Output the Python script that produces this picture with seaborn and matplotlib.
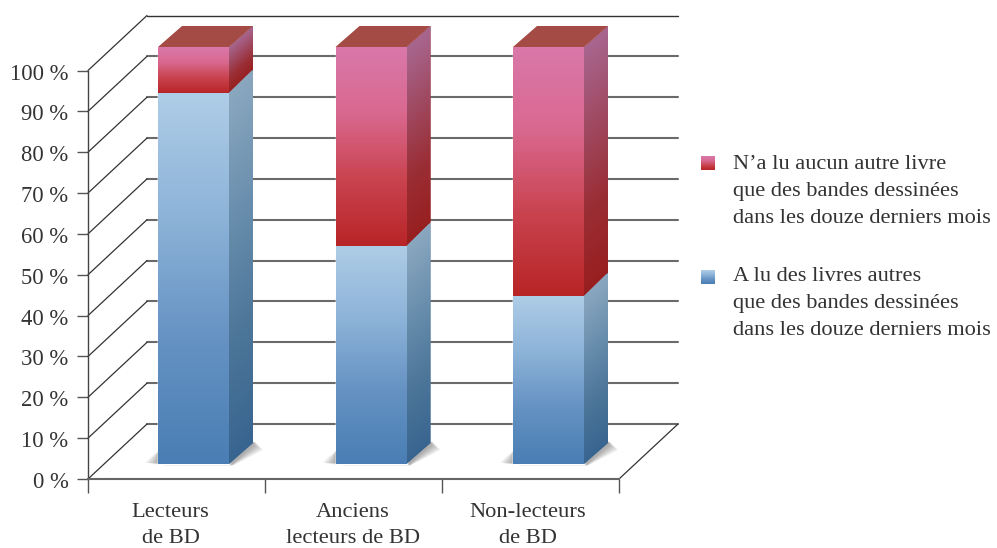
import numpy as np
import pandas as pd
import matplotlib
matplotlib.use('Agg')
import matplotlib.pyplot as plt
import seaborn as sns
from matplotlib.colors import LinearSegmentedColormap
from matplotlib.patches import Polygon
from matplotlib.transforms import ScaledTranslation

# Data
categories = ['Lecteurs\nde BD', 'Anciens\nlecteurs de BD', 'Non-lecteurs\nde BD']
a_lu = [89, 52.3, 40.3]
aucun = [11, 47.7, 59.7]
y_ticks = [0, 10, 20, 30, 40, 50, 60, 70, 80, 90, 100]
legend_aucun = "N’a lu aucun autre livre\nque des bandes dessinées\ndans les douze derniers mois"
legend_a_lu = "A lu des livres autres\nque des bandes dessinées\ndans les douze derniers mois"

W, H = 997, 548
sns.set_theme(style='white')
plt.rcParams['font.family'] = ['Liberation Serif', 'DejaVu Serif']
TXT = '#333333'

blue_front = LinearSegmentedColormap.from_list('bf', ['#aecde7', '#8db3d8', '#6592c3', '#4a7eb4'])
blue_side = LinearSegmentedColormap.from_list('bs', ['#8aa7bf', '#6a8fae', '#4d7699', '#386590'])
red_front = LinearSegmentedColormap.from_list('rf', ['#da78aa', '#d9688f', '#c9434f', '#b82527'])
red_side = LinearSegmentedColormap.from_list('rs', ['#a8668f', '#a04a62', '#9a2e35', '#981f1f'])


def rect(x0, ytop, x1, ybot):
    return [x0 / W, 1 - ybot / H, (x1 - x0) / W, (ybot - ytop) / H]


fig = plt.figure(figsize=(W / 100, H / 100), dpi=100)

# Frame axes: the front plane of the 3D box
ax = fig.add_axes(rect(88, 70.5, 619, 479))
ax.set_xlim(-0.5, 2.5)
ax.set_ylim(0, 100)
ax.patch.set_visible(False)
depth_x = 59 / 177
depth_y = 55 / 4.085
for s in ['top', 'right']:
    ax.spines[s].set_visible(False)
ax.spines['left'].set_color('#444444')
ax.spines['left'].set_linewidth(1.0)
ax.spines['bottom'].set_color('#666666')
ax.spines['bottom'].set_linewidth(1.5)

for t in y_ticks:
    top = t == y_ticks[-1]
    ax.plot([-0.5 + depth_x, 2.5 + depth_x], [t + depth_y, t + depth_y], clip_on=False,
            color='#333333' if top else '#6a6a6a', lw=1.0 if top else 1.5, zorder=1)
    ax.plot([-0.5, -0.5 + depth_x], [t, t + depth_y], clip_on=False, color='#333333', lw=0.9, zorder=1)
ax.plot([2.5, 2.5 + depth_x], [0, depth_y], clip_on=False, color='#333333', lw=0.9, zorder=1)

ax.set_yticks(y_ticks)
ax.set_yticklabels([f'{t} %' for t in y_ticks], fontsize=16.3, color=TXT)
ax.tick_params(axis='y', length=8, width=1.0, color='#555555', pad=6, left=True)
for lab in ax.get_yticklabels():
    lab.set_transform(lab.get_transform() + ScaledTranslation(0, -1 / 100, fig.dpi_scale_trans))
ax.set_xticks([-0.5, 0.5, 1.5, 2.5])
ax.set_xticklabels([])
ax.tick_params(axis='x', which='major', length=10, width=1.0, color='#555555', bottom=True)
ax.set_xticks([0, 1, 2], minor=True)
ax.set_xticklabels(categories, minor=True, fontsize=16.2, color=TXT, linespacing=1.45)
ax.tick_params(axis='x', which='minor', length=0, pad=17.5)
for lab, shift in zip(ax.get_xticklabels(minor=True), [-6, -1, -3]):
    lab.set_transform(lab.get_transform() + ScaledTranslation(shift / 100, 0, fig.dpi_scale_trans))

# Bar axes: plane of the bars front faces, own scale because of perspective
scale_y = 4.17
ax2 = fig.add_axes(rect(104.75, 464 - 110 * scale_y, 637.25, 464 + 5 * scale_y))
ax2.patch.set_visible(False)
df = pd.DataFrame({'cat': categories, 'a_lu': a_lu, 'aucun': aucun})
df['total'] = df['a_lu'] + df['aucun']
sns.barplot(data=df, x='cat', y='total', color='#c63a45', width=0.4, saturation=1, ax=ax2, zorder=3)
sns.barplot(data=df, x='cat', y='a_lu', color='#7ba5cf', width=0.4, saturation=1, ax=ax2, zorder=3)
ax2.axis('off')

bar_depth_x = 24 / 177.5
bar_depth_y = 21 / scale_y
split_extra = 2.5 / scale_y


def gradient(xmin, xmax, ybot, ytop, cmap, slope, clip):
    # vertical gradient, sheared along the side faces
    xs = np.linspace(xmin, xmax, 40)
    top_edge = ytop + (bar_depth_y if slope else 0)
    ys = np.linspace(top_edge, ybot, 200)
    gx, gy = np.meshgrid(xs, ys)
    frac = (ytop - (gy - slope * (gx - xmin))) / (ytop - ybot)
    im = ax2.imshow(np.clip(frac, 0, 1), cmap=cmap, vmin=0, vmax=1, aspect='auto', interpolation='bilinear',
                    extent=[xmin, xmax, ybot, top_edge], zorder=clip.get_zorder() + 0.1)
    im.set_clip_path(clip)


n = len(categories)
red_bars = ax2.patches[:n]
blue_bars = ax2.patches[n:]
slope = bar_depth_y / bar_depth_x
for i in range(n):
    x0 = red_bars[i].get_x()
    x1 = x0 + red_bars[i].get_width()
    split = a_lu[i]
    total = split + aucun[i]

    # soft ground shadow
    for grow in np.linspace(0.072, 0.006, 10):
        ax2.add_patch(Polygon([(x0 - grow, 0.3), (x0 + 0.05, -grow * 6), (x1 + 0.02, -grow * 6),
                               (x1 + bar_depth_x + grow * 0.8, bar_depth_y - 0.4 - grow * 18),
                               (x1 + bar_depth_x + grow * 0.15, bar_depth_y + 0.3), (x1, 3),
                               (x0, 3), (x0 - grow * 0.6, 0.6 + grow * 14)],
                              closed=True, fc='#4a4a4a', ec='none', alpha=0.055, zorder=2))

    gradient(x0, x1, split, total, red_front, 0, red_bars[i])
    gradient(x0, x1, 0, split, blue_front, 0, blue_bars[i])

    split_back = split + bar_depth_y + split_extra
    side_red = Polygon([(x1, split), (x1 + bar_depth_x, split_back), (x1 + bar_depth_x, total + bar_depth_y), (x1, total)],
                       closed=True, fc='#98282c', ec='none', zorder=3)
    side_blue = Polygon([(x1, 0), (x1 + bar_depth_x, bar_depth_y), (x1 + bar_depth_x, split_back), (x1, split)],
                        closed=True, fc='#5f87ab', ec='none', zorder=3)
    ax2.add_patch(side_red)
    ax2.add_patch(side_blue)
    gradient(x1, x1 + bar_depth_x, split, total, red_side, slope, side_red)
    gradient(x1, x1 + bar_depth_x, 0, split, blue_side, slope, side_blue)
    ax2.add_patch(Polygon([(x0, total), (x1, total), (x1 + bar_depth_x, total + bar_depth_y), (x0 + bar_depth_x, total + bar_depth_y)],
                          closed=True, fc='#a34b44', ec='none', zorder=3.5))
ax2.set_xlim(-0.5, 2.5)
ax2.set_ylim(-5, 110)

# Legend
for top_y, text_y, cmap, label in [(156, 155, red_front, legend_aucun), (270, 267, blue_front, legend_a_lu)]:
    sw = fig.add_axes(rect(701, top_y, 715, top_y + 14))
    sw.imshow(np.linspace(0, 1, 30).reshape(-1, 1), cmap=cmap, aspect='auto')
    sw.axis('off')
    fig.text(733 / W, 1 - text_y / H, label, fontsize=16.15, color=TXT, va='top', ha='left', linespacing=1.57)

fig.savefig('out.png', dpi=100)
